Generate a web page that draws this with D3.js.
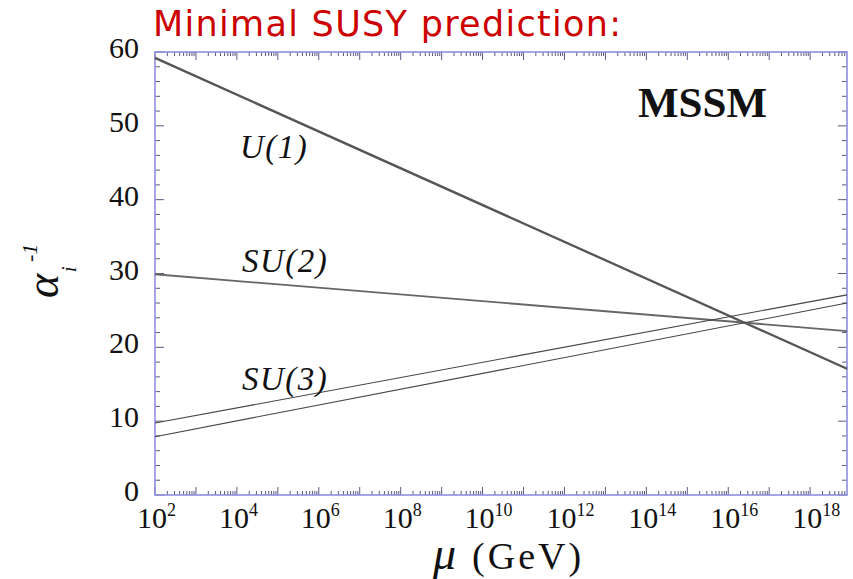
<!DOCTYPE html>
<html>
<head>
<meta charset="utf-8">
<script src="https://cdn.jsdelivr.net/npm/d3@7"></script>
<style>
  body { margin: 0; background: #fff; }
  svg { display: block; }
</style>
</head>
<body>
<svg width="853" height="579"></svg>
<script>
// Echelle d'energie (GeV) : extremites du graphe
const mu = [1e2, Math.pow(10, 18.9)];

// Inverse des couplages alpha_i^-1 aux deux extremites (droites en log mu)
const inverseU1 = [59.2, 17.1];
const inverseSU2 = [29.9, 22.2];
const inverseSU3haut = [9.75, 27.1];
const inverseSU3bas = [7.9, 26.0];

// Graduations
const yTicks = [0, 10, 20, 30, 40, 50, 60];
const xTickExposants = [2, 4, 6, 8, 10, 12, 14, 16, 18];

const svg = d3.select("svg");

const marge = { gauche: 155, droite: 847, haut: 52, bas: 495 };

const xScale = d3.scaleLog()
    .domain(mu)
    .range([marge.gauche, marge.droite]);

const yScale = d3.scaleLinear()
    .domain([0, 60])
    .range([marge.bas, marge.haut]);

// Titre
svg.append("text")
    .text("Minimal SUSY prediction:")
    .attr("x", 153)
    .attr("y", 36)
    .attr("fill", "#cc0000")
    .style("font-family", "DejaVu Sans, Verdana, sans-serif")
    .style("font-size", "35px")
    .style("letter-spacing", "1.3px");

// Cadre
const couleurCadre = "#8f8fe0";
const couleurTick = "#5a5a80";

// Petites graduations log (x), en haut et en bas
const xMineurs = [];
for (let e = 2; e <= 18; e++) {
    for (let k = 1; k <= 9; k++) {
        const v = k * Math.pow(10, e);
        if (v <= mu[1]) xMineurs.push({ v: v, majeur: k === 1 });
    }
}

const gTicks = svg.append("g").attr("stroke", couleurTick).attr("stroke-width", 1);

gTicks.selectAll(".xbas")
    .data(xMineurs)
    .enter()
    .append("line")
    .attr("x1", d => xScale(d.v))
    .attr("x2", d => xScale(d.v))
    .attr("y1", marge.bas)
    .attr("y2", d => marge.bas - (d.majeur ? 8 : 4));

gTicks.selectAll(".xhaut")
    .data(xMineurs)
    .enter()
    .append("line")
    .attr("x1", d => xScale(d.v))
    .attr("x2", d => xScale(d.v))
    .attr("y1", marge.haut)
    .attr("y2", d => marge.haut + (d.majeur ? 8 : 4));

// Graduations y tous les 2
const yMineurs = d3.range(0, 61, 2);

gTicks.selectAll(".ygauche")
    .data(yMineurs)
    .enter()
    .append("line")
    .attr("x1", marge.gauche)
    .attr("x2", d => marge.gauche + (d % 10 === 0 ? 9 : 5))
    .attr("y1", d => yScale(d))
    .attr("y2", d => yScale(d));

gTicks.selectAll(".ydroite")
    .data(yMineurs)
    .enter()
    .append("line")
    .attr("x1", marge.droite)
    .attr("x2", d => marge.droite - (d % 10 === 0 ? 9 : 5))
    .attr("y1", d => yScale(d))
    .attr("y2", d => yScale(d));

svg.append("rect")
    .attr("x", marge.gauche)
    .attr("y", marge.haut)
    .attr("width", marge.droite - marge.gauche)
    .attr("height", marge.bas - marge.haut)
    .attr("fill", "none")
    .attr("stroke", couleurCadre)
    .attr("stroke-width", 1.6);

// Etiquettes y
svg.selectAll(".ylabel")
    .data(yTicks)
    .enter()
    .append("text")
    .attr("x", 139)
    .attr("y", d => yScale(d) + 6)
    .attr("text-anchor", "end")
    .style("font-family", "Liberation Serif, Times New Roman, serif")
    .style("font-size", "30px")
    .attr("fill", "#111")
    .text(d => d);

// Etiquettes x : 10^n
const xLabels = svg.selectAll(".xlabel")
    .data(xTickExposants)
    .enter()
    .append("text")
    .attr("x", d => xScale(Math.pow(10, d)) - 18)
    .attr("y", 528)
    .style("font-family", "Liberation Serif, Times New Roman, serif")
    .style("font-size", "30px")
    .attr("fill", "#111");

xLabels.append("tspan").text("10");
xLabels.append("tspan")
    .attr("dy", -12)
    .style("font-size", "18px")
    .text(d => d);

// Titre axe x
const xTitre = svg.append("text")
    .attr("x", 433)
    .attr("y", 569)
    .style("font-family", "Liberation Serif, Times New Roman, serif")
    .style("font-size", "38px")
    .attr("fill", "#111");
xTitre.append("tspan").style("font-style", "italic").style("font-size", "46px").text("μ");
xTitre.append("tspan").attr("dx", 16).style("letter-spacing", "3px").text("(GeV)");

// Titre axe y : alpha_i^-1
const yTitre = svg.append("g")
    .attr("transform", "translate(58,298) rotate(-90)")
    .style("font-family", "Liberation Serif, Times New Roman, serif")
    .style("font-style", "italic")
    .attr("fill", "#111");
yTitre.append("text").attr("x", 0).attr("y", 0).style("font-size", "46px").text("α");
yTitre.append("text").attr("x", 26).attr("y", 18).style("font-size", "20px").text("i");
yTitre.append("text").attr("x", 36).attr("y", -21).style("font-size", "22px").text("-1");

// Courbes
const ligne = d3.line()
    .x(d => xScale(d[0]))
    .y(d => yScale(d[1]));

const courbes = [
    { valeurs: inverseU1, couleur: "#555", epaisseur: 2.3 },
    { valeurs: inverseSU2, couleur: "#666", epaisseur: 1.8 },
    { valeurs: inverseSU3haut, couleur: "#444", epaisseur: 1.1 },
    { valeurs: inverseSU3bas, couleur: "#444", epaisseur: 1.1 }
];

svg.selectAll(".courbe")
    .data(courbes)
    .enter()
    .append("path")
    .attr("class", "courbe")
    .attr("d", c => ligne(mu.map((m, i) => [m, c.valeurs[i]])))
    .attr("fill", "none")
    .attr("stroke", c => c.couleur)
    .attr("stroke-width", c => c.epaisseur);

// Etiquettes des courbes
const etiquettes = [
    { texte: "U(1)", x: 240, y: 158 },
    { texte: "SU(2)", x: 242, y: 272 },
    { texte: "SU(3)", x: 242, y: 390 }
];

svg.selectAll(".etiquette")
    .data(etiquettes)
    .enter()
    .append("text")
    .attr("x", d => d.x)
    .attr("y", d => d.y)
    .style("font-family", "Liberation Serif, Times New Roman, serif")
    .style("font-style", "italic")
    .style("font-size", "33px")
    .style("letter-spacing", "1.5px")
    .attr("fill", "#111")
    .text(d => d.texte);

svg.append("text")
    .attr("x", 638)
    .attr("y", 117)
    .style("font-family", "Liberation Serif, Times New Roman, serif")
    .style("font-weight", "bold")
    .style("font-size", "43px")
    .attr("fill", "#111")
    .text("MSSM");
</script>
</body>
</html>
